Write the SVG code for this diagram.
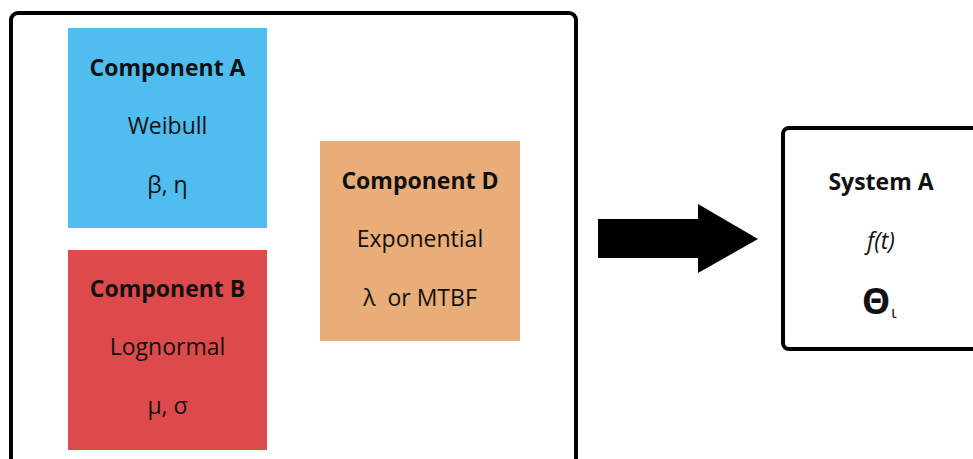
<svg xmlns="http://www.w3.org/2000/svg" width="973" height="459" viewBox="0 0 973 459">
  <style>
    .frame { fill: #ffffff; stroke: #000000; stroke-width: 4; }
    .t { font-family: "Open Sans", "Noto Sans", "Liberation Sans", sans-serif; font-size: 23px; fill: #111111; text-anchor: middle; white-space: pre; }
    .b { font-weight: bold; }
    .i { font-style: italic; }
    .theta { font-size: 36px; }
    .sub { font-size: 17px; }
  </style>
  <rect width="973" height="459" fill="#ffffff"/>

  <!-- enclosing group of components -->
  <g id="group">
    <rect class="frame" x="11" y="13" width="565" height="460" rx="7"/>
  </g>

  <g id="component-a">
    <rect x="68" y="28" width="199" height="200" fill="#4FBDEF"/>
    <text class="t b" x="167.5" y="76">Component A</text>
    <text class="t" x="167.5" y="134">Weibull</text>
    <text class="t" x="167.5" y="193">β, η</text>
  </g>

  <g id="component-b">
    <rect x="68" y="250" width="199" height="200" fill="#DD4A4B"/>
    <text class="t b" x="167.5" y="297">Component B</text>
    <text class="t" x="167.5" y="355">Lognormal</text>
    <text class="t" x="167.5" y="414">μ, σ</text>
  </g>

  <g id="component-d">
    <rect x="320" y="141" width="200" height="200" fill="#E8AD78"/>
    <text class="t b" x="420" y="189">Component D</text>
    <text class="t" x="420" y="247">Exponential</text>
    <text class="t" x="420" y="306">λ  or MTBF</text>
  </g>

  <g id="connectors">
    <polygon points="598,219 698,219 698,204 758,239 698,273 698,258 598,258" fill="#000000"/>
  </g>

  <g id="system-a">
    <rect class="frame" x="783" y="128" width="200" height="221" rx="6"/>
    <text class="t b" x="881" y="190">System A</text>
    <text class="t i" x="881" y="249">f(t)</text>
    <text class="t b theta" x="876" y="314">Θ</text>
    <text class="t sub" x="894" y="318">ι</text>
  </g>
</svg>
